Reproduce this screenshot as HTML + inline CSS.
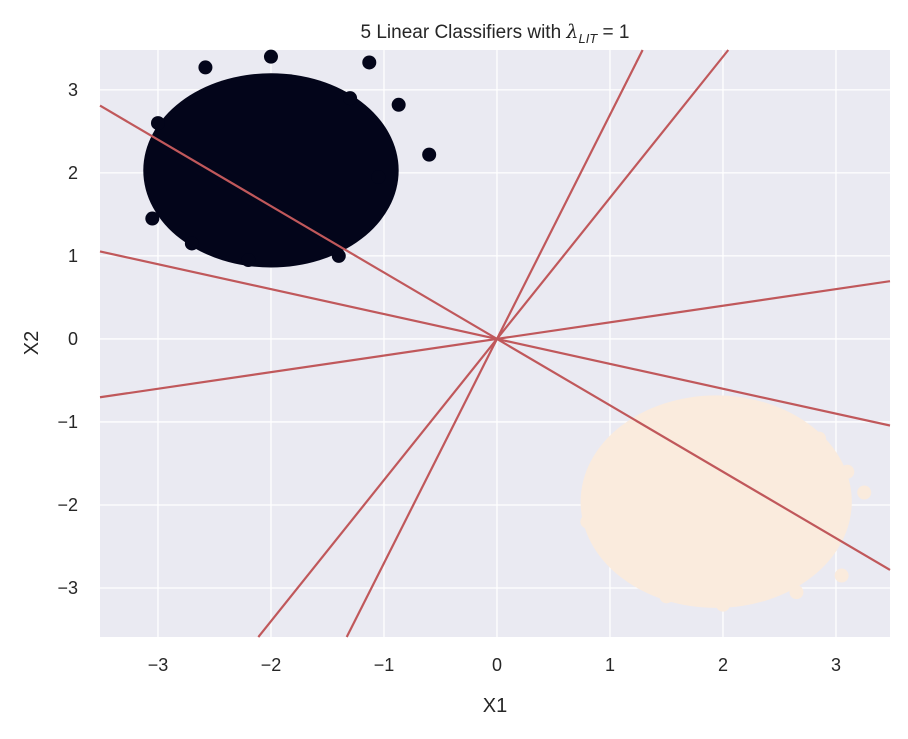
<!DOCTYPE html>
<html><head><meta charset="utf-8"><style>
body{margin:0;background:#fff;}
svg text{font-family:"Liberation Sans","DejaVu Sans",sans-serif;fill:#262626;}
</style></head><body>
<svg id="chart" width="908" height="734" xmlns="http://www.w3.org/2000/svg">
<rect x="100" y="50" width="790" height="587" fill="#eaeaf2"/>
<g id="grid"></g>
<g id="clouds"></g>
<g id="lines"></g>
<g id="ticks"></g>
<text x="495" y="38" font-size="19" text-anchor="middle">5 Linear Classifiers with <tspan font-family="DejaVu Serif" font-style="italic">λ</tspan><tspan font-size="13" dy="5" font-style="italic">LIT</tspan><tspan dy="-5"> = 1</tspan></text>
<text x="495" y="712" font-size="20" text-anchor="middle">X1</text>
<text x="38" y="343" font-size="20" text-anchor="middle" transform="rotate(-90 38 343)">X2</text>
</svg>
<script>
const xTicks=[-3,-2,-1,0,1,2,3];
const yTicks=[-3,-2,-1,0,1,2,3];
const slopes=[-0.8,-0.3,0.2,1.7,2.7];
const clusterCenters=[[-2.0,2.03],[1.94,-1.96]];
const clusterSpread=[[1.13,1.17],[1.2,1.28]];
const outliersDark=[[-2.0,3.4],[-1.13,3.33],[-0.87,2.82],[-0.6,2.22],[-2.58,3.27],[-3.0,2.6],[-1.05,1.95],[-2.2,0.95],[-1.4,1.0],[-3.05,1.45],[-1.3,2.9],[-2.7,1.15]];
const outliersLight=[[3.25,-1.85],[1.7,-0.8],[2.85,-1.2],[0.8,-2.2],[1.25,-1.05],[1.5,-3.1],[2.65,-3.05],[3.05,-2.85],[2.0,-3.2],[1.0,-2.6],[3.1,-1.6],[2.3,-0.9]];
const X0=-3.513,X1=3.478,Y0=-3.59,Y1=3.48;
const L=100,R=890,T=50,B=637;
const sx=v=>L+(v-X0)/(X1-X0)*(R-L);
const sy=v=>B-(v-Y0)/(Y1-Y0)*(B-T);
const NS="http://www.w3.org/2000/svg";
function mk(tag,attrs,parent){const e=document.createElementNS(NS,tag);for(const k in attrs)e.setAttribute(k,attrs[k]);document.getElementById(parent).appendChild(e);return e;}
xTicks.forEach(v=>{
 const g=mk('line',{x1:sx(v),x2:sx(v),y1:T,y2:B,stroke:'#fff','stroke-width':1.3},'grid');
 
 
 const t=mk('text',{x:sx(v),y:B+34,'font-size':18,'text-anchor':'middle'},'ticks');
 t.textContent=v<0?'−'+(-v):String(v);
 
 
});
yTicks.forEach(v=>{
 const g=mk('line',{x1:L,x2:R,y1:sy(v),y2:sy(v),stroke:'#fff','stroke-width':1.3},'grid');
 
 
 const t=mk('text',{x:L-22,y:sy(v)+6,'font-size':18,'text-anchor':'end'},'ticks');
 t.textContent=v<0?'−'+(-v):String(v);
 
 
});
const cols=['#03051a','#faebdd'];
clusterCenters.forEach((c,i)=>{
 const e=mk('ellipse',{cx:sx(c[0]),cy:sy(c[1]),rx:clusterSpread[i][0]*113,ry:clusterSpread[i][1]*83,fill:cols[i]},'clouds');
 
 
});
[[outliersDark,0],[outliersLight,1]].forEach(([pts,i])=>pts.forEach(p=>{
 const c=mk('circle',{cx:sx(p[0]),cy:sy(p[1]),r:7,fill:cols[i]},'clouds');
 
 
}));
slopes.forEach(m=>{
 let xa=X0,xb=X1;
 let ya=m*xa,yb=m*xb;
 if(ya>Y1||ya<Y0){xa=(m>0?Y0:Y1)/m;ya=m*xa;}
 if(yb>Y1||yb<Y0){xb=(m>0?Y1:Y0)/m;yb=m*xb;}
 const l=mk('line',{x1:sx(xa),y1:sy(ya),x2:sx(xb),y2:sy(yb),stroke:'#c0585b','stroke-width':2.2},'lines');
 
 
});
</script>
</body></html>
